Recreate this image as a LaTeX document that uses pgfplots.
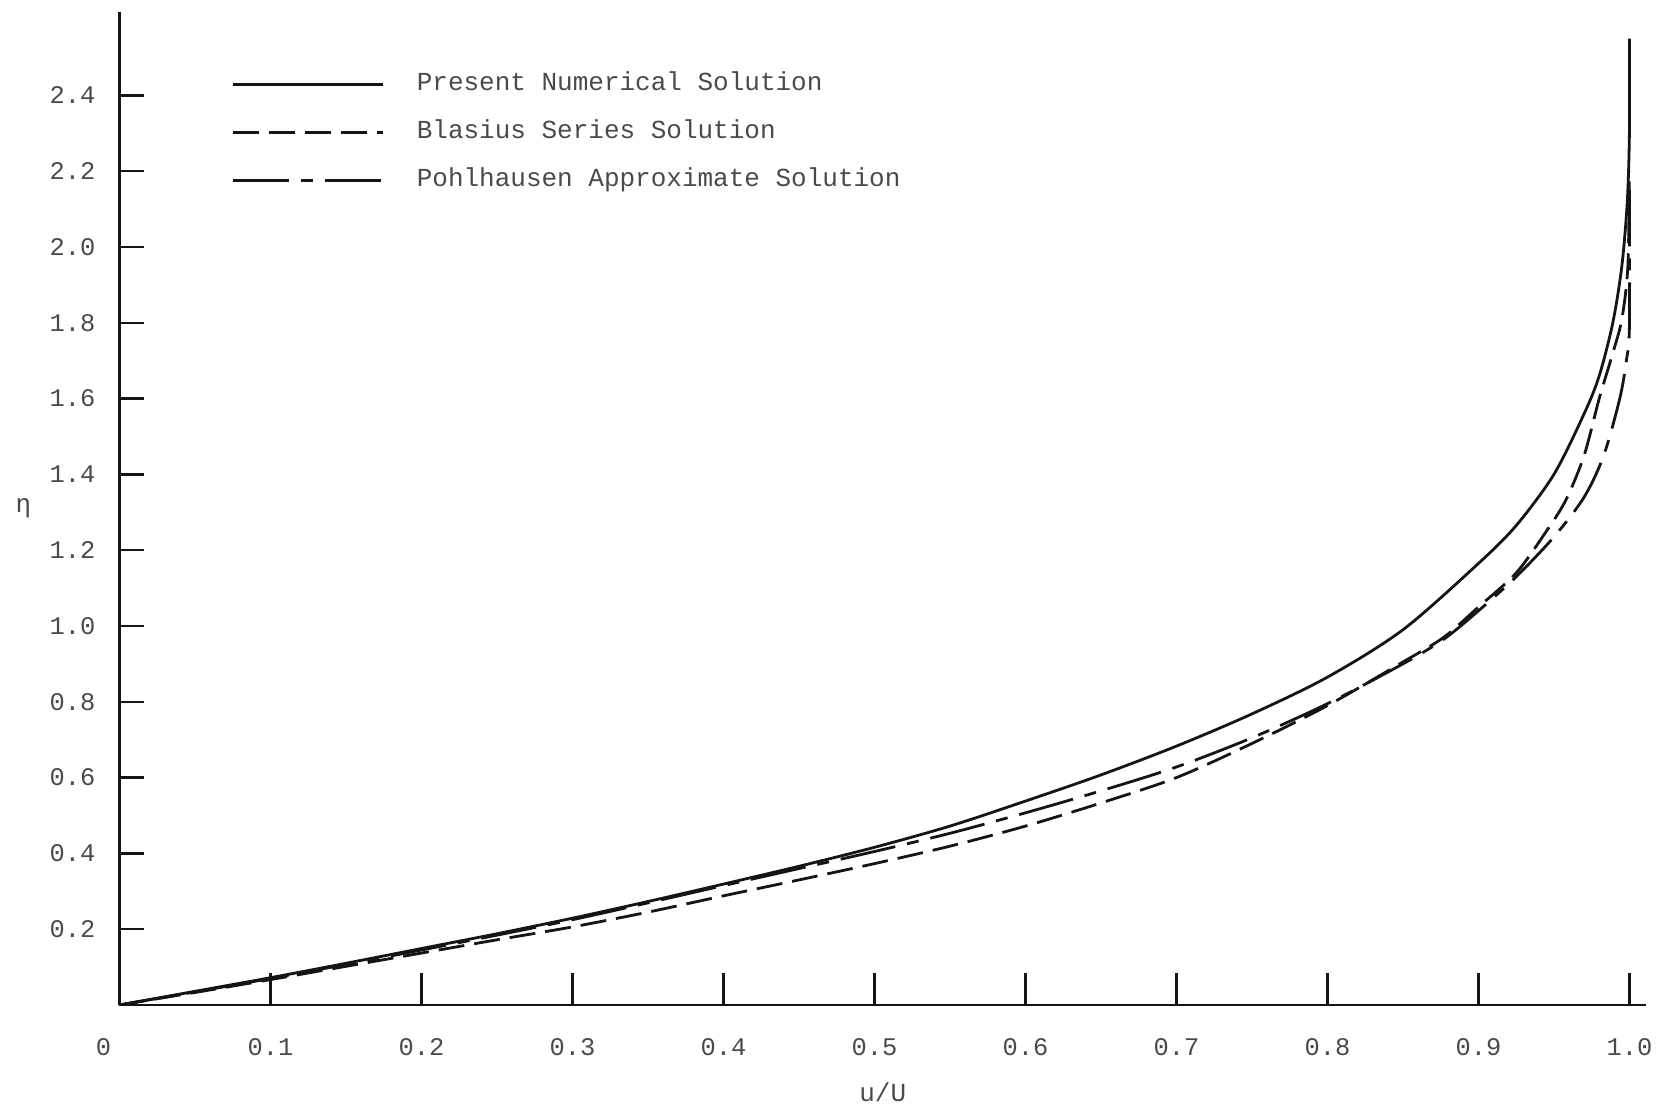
\documentclass[border=0pt]{standalone}
\usepackage{fontspec}
\setmainfont{Liberation Mono}
\usepackage{pgfplots}
\usepackage{pgfplotstable}
\pgfplotsset{compat=1.18}

\definecolor{ink}{HTML}{151515}
\definecolor{typed}{HTML}{4A4A4A}

% velocity profiles: u/U against eta
\pgfplotstableread{
u eta
0 0
0.05 0.036
0.1 0.072
0.15 0.110
0.2 0.149
0.25 0.188
0.3 0.229
0.35 0.273
0.4 0.319
0.45 0.366
0.5 0.416
0.55 0.472
0.6 0.538
0.65 0.607
0.7 0.683
0.75 0.768
0.8 0.865
0.85 0.990
0.9 1.165
0.925 1.265
0.95 1.400
0.97 1.560
0.98 1.660
0.989 1.800
0.995 1.950
0.9986 2.120
1.0 2.300
1.0 2.550
}\present

\pgfplotstableread{
u eta
0 0
0.05 0.033
0.1 0.067
0.15 0.102
0.2 0.137
0.25 0.172
0.3 0.206
0.35 0.245
0.4 0.288
0.45 0.330
0.5 0.373
0.55 0.419
0.6 0.472
0.65 0.533
0.7 0.600
0.75 0.690
0.8 0.790
0.85 0.905
0.877 0.970
0.9 1.050
0.925 1.140
0.945 1.250
0.958 1.333
0.97 1.450
0.98 1.600
0.989 1.720
0.995 1.810
0.999 1.950
1.0 2.200
}\blasius

\pgfplotstableread{
u eta
0 0
0.1 0.070
0.2 0.145
0.3 0.225
0.4 0.315
0.45 0.360
0.5 0.405
0.55 0.453
0.6 0.507
0.65 0.565
0.7 0.628
0.75 0.705
0.8 0.795
0.85 0.900
0.877 0.965
0.9 1.040
0.925 1.130
0.95 1.235
0.97 1.340
0.983 1.450
0.9936 1.600
0.998 1.700
1.0 1.790
1.0 2.150
}\pohlhausen

\begin{document}
\begin{tikzpicture}
\useasboundingbox (-59.7pt,-55pt) rectangle (775.8pt,502.5pt);
\begin{axis}[
  x=755pt, y=189.5pt,
  xmin=0, xmax=1.011, ymin=0, ymax=2.62,
  axis x line*=bottom, axis y line*=left,
  axis line style={ink, line width=1.25pt},
  tick align=inside,
  xtick={0.1,0.2,0.3,0.4,0.5,0.6,0.7,0.8,0.9,1.0},
  xticklabels={0.1,0.2,0.3,0.4,0.5,0.6,0.7,0.8,0.9,1.0},
  ytick={0.2,0.4,0.6,0.8,1.0,1.2,1.4,1.6,1.8,2.0,2.2,2.4},
  yticklabels={0.2,0.4,0.6,0.8,1.0,1.2,1.4,1.6,1.8,2.0,2.2,2.4},
  extra x ticks={0},
  extra x tick labels={0},
  extra x tick style={major tick length=0pt, xticklabel style={xshift=-8pt}},
  xtick style={ink, line width=1.25pt, /pgfplots/major tick length=16pt},
  ytick style={ink, line width=1.25pt, /pgfplots/major tick length=12.5pt},
  /pgf/number format/assume math mode=true,
  tick label style={typed, font=\fontsize{12.7}{14}\selectfont},
  xticklabel style={anchor=center, yshift=-21.3pt},
  yticklabel style={anchor=east, xshift=-8.5pt},
  xlabel={u/U},
  ylabel={η},
  every axis x label/.style={at={(axis description cs:0.5,0)}, anchor=center,
    yshift=-43.5pt, typed, font=\fontsize{13}{15}\selectfont},
  every axis y label/.style={at={(axis description cs:0,0.5)}, anchor=center,
    xshift=-48pt, typed, font=\fontsize{13}{15}\selectfont},
  legend image code/.code={\draw[#1] (0pt,0pt) -- (75pt,0pt);},
  legend cell align=left,
  legend style={draw=none, fill=none, inner sep=0pt, outer sep=0pt,
    at={(axis cs:0.0746,2.46)}, anchor=north west,
    column sep=16pt, row sep=12pt,
    nodes={inner sep=0pt, text height=9pt, text depth=3pt, text=typed},
    font=\fontsize{13}{15}\selectfont},
]
\addplot[ink, line width=1.4pt, smooth, tension=0.5] table[x=u, y=eta] {\present};
\addlegendentry{Present Numerical Solution}
\addplot[ink, line width=1.4pt, smooth, tension=0.5, dash pattern=on 13pt off 5pt] table[x=u, y=eta] {\blasius};
\addlegendentry{Blasius Series Solution}
\addplot[ink, line width=1.4pt, smooth, tension=0.5, dash pattern=on 28pt off 6pt on 6pt off 6pt] table[x=u, y=eta] {\pohlhausen};
\addlegendentry{Pohlhausen Approximate Solution}
\end{axis}
\end{tikzpicture}
\end{document}
